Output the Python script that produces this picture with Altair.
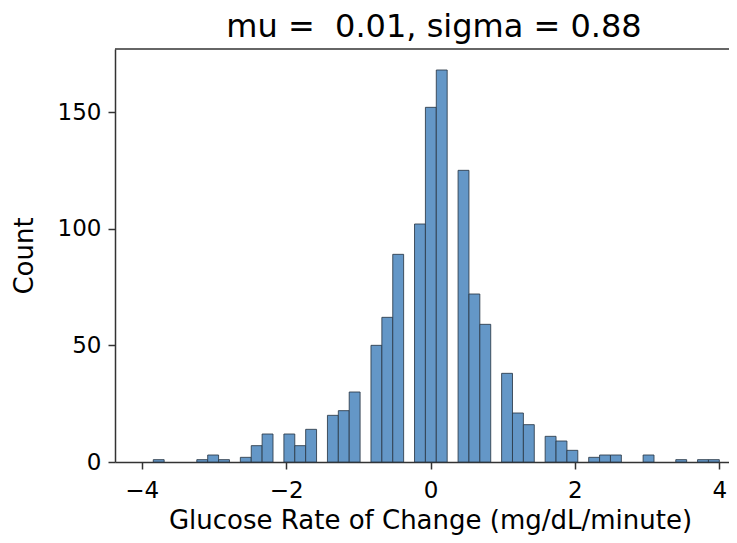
import altair as alt
import numpy as np
import pandas as pd

# Histogram of glucose rate of change
bin_lo = -3.84
bin_hi = 4.0
n_bins = 52
counts = [1, 0, 0, 0, 1, 3, 1, 0, 2, 7,
          12, 0, 12, 7, 14, 0, 20, 22, 30, 0,
          50, 62, 89, 0, 102, 152, 168, 0, 125, 72,
          59, 0, 38, 21, 16, 0, 11, 9, 5, 0,
          2, 3, 3, 0, 0, 3, 0, 0, 1, 0,
          1, 1]
x_ticks = [-4, -2, 0, 2, 4]
y_ticks = [0, 50, 100, 150]
title_text = "mu = \u00a00.01, sigma = 0.88"
x_title = "Glucose Rate of Change (mg/dL/minute)"
y_title = "Count"

edges = np.linspace(bin_lo, bin_hi, n_bins + 1)
df = pd.DataFrame({"left": edges[:-1], "right": edges[1:], "count": counts})
df = df[df["count"] > 0]

W, H = 614, 413
FONT = "DejaVu Sans"

bars = alt.Chart(df).mark_rect(
    fill="#6497c7", stroke="#2b3a48", strokeWidth=1, strokeOpacity=0.85
).encode(
    x=alt.X("left:Q",
            scale=alt.Scale(domain=[-4.37, 4.134], nice=False, zero=False),
            axis=alt.Axis(values=x_ticks, title=x_title, grid=False, format="d",
                          labelPadding=10, titleX=315, titleY=66,
                          titleBaseline="alphabetic")),
    x2="right:Q",
    y=alt.Y("count:Q",
            scale=alt.Scale(domain=[0, 177], nice=False),
            axis=alt.Axis(values=y_ticks, title=y_title, grid=False, format="d",
                          labelPadding=7, titlePadding=20)),
    y2=alt.datum(0),
)

top = alt.Chart(pd.DataFrame({"a": [0]})).mark_rule(
    color="#333", strokeWidth=1.5
).encode(x=alt.value(0), x2=alt.value(W), y=alt.value(0))

chart = alt.layer(bars, top).properties(
    width=W, height=H,
    title=alt.TitleParams(text=title_text, fontSize=32, font=FONT,
                          fontWeight="normal", color="#000", dx=12, offset=4),
    autosize=alt.AutoSizeParams(type="none"),
    padding={"left": 107, "top": 41, "right": 0, "bottom": 73},
).configure_view(stroke=None).configure_axis(
    labelFont=FONT, labelFontSize=23, labelColor="#000",
    titleFont=FONT, titleFontSize=26, titleFontWeight="normal", titleColor="#000",
    domainColor="#333", domainWidth=1.5, tickColor="#333", tickWidth=1.5,
    tickSize=7,
)

chart.save("out.html", embed_options={"renderer": "svg", "actions": False})
